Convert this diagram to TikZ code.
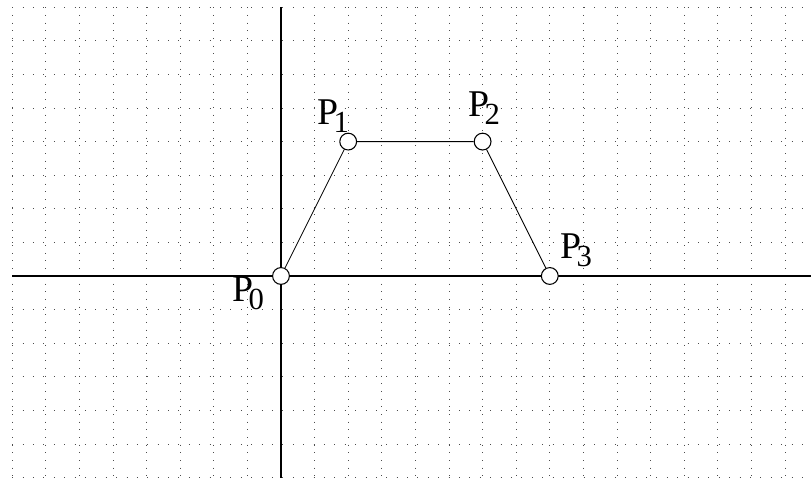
\documentclass[tikz,border=0pt]{standalone}
\usepackage{fontspec}
\setmainfont{Liberation Serif}
\newcommand\ptlabel[1]{\fontsize{32}{34}\selectfont P\kern-0.12em\raisebox{-7pt}{\fontsize{26}{28}\selectfont #1}}
\begin{document}
\begin{tikzpicture}[x=1cm,y=1cm,
  hgrid/.style={line width=0.7pt,gray!60!black,dash pattern=on 0.8pt off 8pt},
  vgrid/.style={line width=0.7pt,gray!60!black,dash pattern=on 0.8pt off 5.7pt},
  axis/.style={line width=1.2pt},
  pt/.style={circle,draw,line width=0.9pt,fill=white,minimum size=0.5cm,inner sep=0pt},
  seg/.style={line width=0.7pt},
  lab/.style={inner sep=0pt,anchor=south west}]
\useasboundingbox (-8.363,-6.101) rectangle (15.774,8.214);
\foreach \y in {-6,...,8} \draw[hgrid] (-8,\y) -- (15.774,\y);
\foreach \x in {-8,...,15} \draw[vgrid] (\x,8) -- (\x,-6);
\coordinate (xl) at (-8,0);
\coordinate (xr) at (15.774,0);
\coordinate (yt) at (0,8);
\coordinate (yb) at (0,-6);
\draw[axis] (xl) -- (xr);
\draw[axis] (yt) -- (yb);
\node[pt] (p0) at (0,0) {};
\node[pt] (p1) at (2,4) {};
\node[pt] (p2) at (6,4) {};
\node[pt] (p3) at (8,0) {};
\draw[seg] (p0) -- (p1) -- (p2) -- (p3);
\node[lab] (l0) at (-1.458,-1.012) {\ptlabel{0}};
\node[lab] (l1) at (1.071,4.256) {\ptlabel{1}};
\node[lab] (l2) at (5.565,4.494) {\ptlabel{2}};
\node[lab] (l3) at (8.304,0.268) {\ptlabel{3}};
\end{tikzpicture}
\end{document}
